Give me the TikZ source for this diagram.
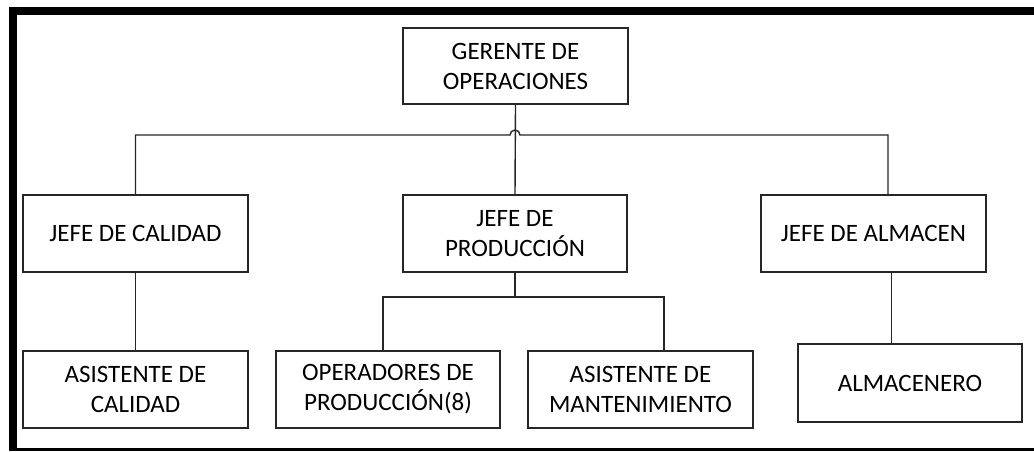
\documentclass[tikz,border=0pt]{standalone}
\usepackage{fontspec}
\setmainfont{Carlito}
\begin{document}
\begin{tikzpicture}[x=1pt,y=1pt,
  box/.style={draw=black!85,line width=1.4pt,fill=white,minimum width=225pt,minimum height=77pt,inner sep=0pt,align=center,font=\fontsize{25}{30}\selectfont},
  link/.style={draw=black!85,line width=1.4pt}]
\useasboundingbox (0,0) rectangle (1034,-451);
\fill[white] (0,0) rectangle (1034,-451);
% frame
\fill[black] (9,-7) rectangle (1034,-15);
\fill[black] (9,-7) rectangle (17,-451);
\fill[black] (9,-448) rectangle (1034,-451);
% boxes
\node[box,minimum height=76pt] (G) at (515.5,-66) {GERENTE DE\\OPERACIONES};
\node[box] (JC) at (135.5,-233.5) {JEFE DE CALIDAD};
\node[box,minimum width=224pt] (JP) at (515,-233.5) {JEFE DE\\PRODUCCIÓN};
\node[box] (JA) at (873.5,-233.5) {JEFE DE ALMACEN};
\node[box] (AC) at (135.5,-389.5) {ASISTENTE DE\\CALIDAD};
\node[box,minimum width=224pt] (OP) at (388,-389.5) {OPERADORES DE\\PRODUCCIÓN(8)};
\node[box] (AM) at (640.5,-389.5) {ASISTENTE DE\\MANTENIMIENTO};
\node[box,minimum width=224pt,minimum height=78pt] (AL) at (910,-383) {ALMACENERO};
% connectors
\draw[link] (G.south) -- (JP.north);
\draw[link] (JC.north) |- (510,-135) arc (180:0:5) -- (888,-135) -- ([xshift=14.5pt]JA.north);
\draw[link] (JC.south) -- (AC.north);
\coordinate (bus) at (515,-297);
\draw[link] (JP.south) -- (bus);
\draw[link] ([xshift=-5pt]OP.north) |- (bus) -| ([xshift=23.5pt]AM.north);
\draw[link] ([xshift=18pt]JA.south) -- ([xshift=18pt]JA.south |- AL.north);
\end{tikzpicture}
\end{document}
